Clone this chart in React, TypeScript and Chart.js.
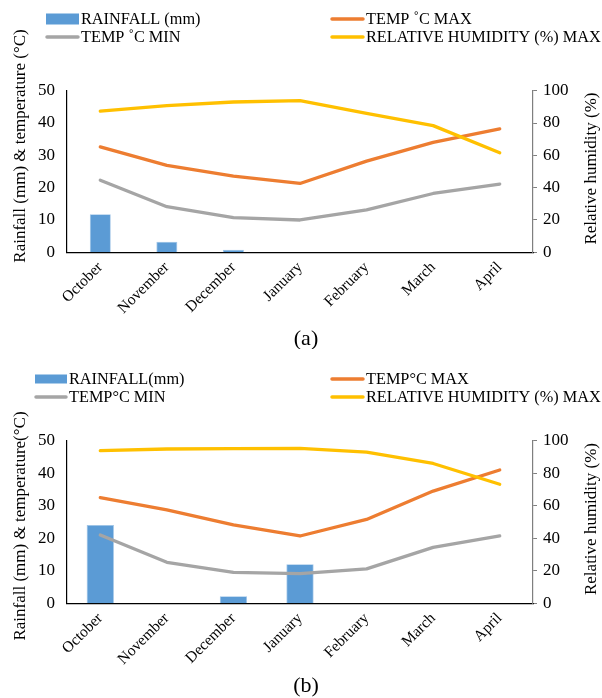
import React, { useEffect, useRef } from "react";
import { Chart, registerables } from "chart.js";

Chart.register(...registerables);

const MONTHS = ["October", "November", "December", "January", "February", "March", "April"];

const RAIN_A = [11.8, 3.3, 0.8, 0, 0, 0, 0];
const TMAX_A = [32.6, 26.9, 23.6, 21.3, 28.2, 34.0, 38.2];
const TMIN_A = [22.3, 14.1, 10.7, 10.0, 13.1, 18.2, 21.1];
const RH_A = [87.4, 90.8, 93.0, 93.8, 86.0, 78.4, 61.6];

const RAIN_B = [24.1, 0, 2.2, 12.0, 0, 0, 0];
const TMAX_B = [32.5, 28.7, 24.1, 20.7, 25.8, 34.5, 41.0];
const TMIN_B = [21.0, 12.6, 9.5, 9.1, 10.6, 17.2, 20.7];
const RH_B = [93.9, 94.9, 95.1, 95.3, 93.0, 86.0, 73.2];

const LABELS_A = ["RAINFALL (mm)", "TEMP ˚C MAX", "TEMP ˚C MIN", "RELATIVE HUMIDITY (%) MAX"];
const LABELS_B = ["RAINFALL(mm)", "TEMP°C MAX", "TEMP°C MIN", "RELATIVE HUMIDITY (%) MAX"];
const YLEFT_A = "Rainfall (mm) & temperature (°C)";
const YLEFT_B = "Rainfall (mm) & temperature(°C)";
const YRIGHT = "Relative humidity (%)";

const BLUE = "#5B9BD5";
const ORANGE = "#ED7D31";
const GRAY = "#A5A5A5";
const YELLOW = "#FFC000";
const FONT = '"Liberation Serif", "Times New Roman", serif';

const W = 602;
const H = 349;

type Cfg = {
  rain: number[];
  tmax: number[];
  tmin: number[];
  rh: number[];
  names: string[];
  yLeft: string;
  caption: string;
  top: number;
  bottom: number;
  barPct: number;
  leg: { x0: number; x1: number; tx: number; r1: number; r2: number; boxH: number };
  leftTitleY: number;
  captionY: number;
};

const annot = {
  id: "annot",
  afterDraw(chart: any, _args: any, opts: any) {
    const cfg: Cfg = opts.cfg;
    if (!cfg) return;
    const ctx = chart.ctx;
    ctx.save();
    ctx.fillStyle = "#000";
    // legend
    const L = cfg.leg;
    ctx.font = `16.3px ${FONT}`;
    ctx.textBaseline = "middle";
    ctx.textAlign = "left";
    ctx.fillStyle = BLUE;
    ctx.fillRect(L.x0, L.r1 - L.boxH / 2, L.x1 - L.x0, L.boxH);
    ctx.lineWidth = 3.5;
    ctx.lineCap = "round";
    const line = (c: string, a: number, b: number, y: number) => {
      ctx.strokeStyle = c;
      ctx.beginPath();
      ctx.moveTo(a, y);
      ctx.lineTo(b, y);
      ctx.stroke();
    };
    line(GRAY, L.x0 + 1, L.x1 - 1, L.r2);
    line(ORANGE, 332, 363, L.r1);
    line(YELLOW, 332, 363, L.r2);
    ctx.fillStyle = "#000";
    ctx.fillText(cfg.names[0], L.tx, L.r1 + 1);
    ctx.fillText(cfg.names[2], L.tx, L.r2 + 1);
    ctx.fillText(cfg.names[1], 366, L.r1 + 1);
    ctx.fillText(cfg.names[3], 366, L.r2 + 1);
    // axis titles
    ctx.font = `17px ${FONT}`;
    ctx.textAlign = "center";
    ctx.textBaseline = "alphabetic";
    ctx.save();
    ctx.translate(25, cfg.leftTitleY);
    ctx.rotate(-Math.PI / 2);
    ctx.fillText(cfg.yLeft, 0, 0);
    ctx.restore();
    const ca = chart.chartArea;
    ctx.save();
    ctx.translate(596, (ca.top + ca.bottom) / 2 - 3);
    ctx.rotate(-Math.PI / 2);
    ctx.fillText(YRIGHT, 0, 0);
    ctx.restore();
    // caption
    ctx.font = `22px ${FONT}`;
    ctx.textBaseline = "middle";
    ctx.fillText(cfg.caption, 306, cfg.captionY);
    ctx.restore();
  },
};

function Panel({ cfg }: { cfg: Cfg }) {
  const ref = useRef<HTMLCanvasElement | null>(null);
  useEffect(() => {
    if (!ref.current) return;
    const tickFont = { family: FONT, size: 17 };
    const lineDs = (label: string, data: number[], color: string, axis: string, order: number) => ({
      type: "line",
      label,
      data,
      yAxisID: axis,
      borderColor: color,
      backgroundColor: color,
      borderWidth: 3.3,
      pointRadius: 0,
      tension: 0,
      borderCapStyle: "round",
      borderJoinStyle: "round",
      order,
    });
    const chart = new Chart(ref.current, {
      type: "bar",
      data: {
        labels: MONTHS,
        datasets: [
          {
            type: "bar",
            label: cfg.names[0],
            data: cfg.rain,
            yAxisID: "y",
            backgroundColor: BLUE,
            borderColor: "#9DC3E6",
            borderWidth: 0.8,
            barPercentage: cfg.barPct,
            categoryPercentage: 1,
            order: 10,
          },
          lineDs(cfg.names[1], cfg.tmax, ORANGE, "y", 2),
          lineDs(cfg.names[2], cfg.tmin, GRAY, "y", 3),
          lineDs(cfg.names[3], cfg.rh, YELLOW, "y1", 1),
        ],
      } as any,
      options: {
        responsive: false,
        animation: false,
        layout: { padding: { top: cfg.top, bottom: 0, left: 0, right: 0 } },
        plugins: {
          legend: { display: false },
          tooltip: { enabled: false },
          annot: { cfg },
        } as any,
        scales: {
          x: {
            type: "category",
            grid: { display: false, drawTicks: false },
            border: { display: true, color: "#000", width: 1.2 },
            ticks: {
              font: { family: FONT, size: 15.5 },
              color: "#000",
              minRotation: 45,
              maxRotation: 45,
              autoSkip: false,
              padding: 6,
            },
            afterFit: (s: any) => {
              s.height = H - cfg.bottom;
            },
          },
          y: {
            position: "left",
            min: 0,
            max: 50,
            ticks: { stepSize: 10, font: tickFont, color: "#000", padding: 12 },
            grid: { display: false, drawTicks: false },
            border: { display: true, color: "#000", width: 1.2 },
            afterFit: (s: any) => {
              s.width = 67;
            },
          },
          y1: {
            position: "right",
            min: 0,
            max: 100,
            ticks: { stepSize: 20, font: tickFont, color: "#000", padding: 6 },
            grid: { display: true, drawOnChartArea: false, drawTicks: true, tickLength: 4, color: "#7F7F7F" },
            border: { display: true, color: "#7F7F7F", width: 1.2 },
            afterFit: (s: any) => {
              s.width = W - 533;
            },
          },
        },
      } as any,
      plugins: [annot],
    });
    return () => chart.destroy();
  }, [cfg]);
  return <canvas ref={ref} width={W} height={H} style={{ display: "block", width: W, height: H }} />;
}

const CFG_A: Cfg = {
  rain: RAIN_A,
  tmax: TMAX_A,
  tmin: TMIN_A,
  rh: RH_A,
  names: LABELS_A,
  yLeft: YLEFT_A,
  caption: "(a)",
  top: 90.7,
  bottom: 252.3,
  barPct: 0.315,
  leg: { x0: 46, x1: 79, tx: 81, r1: 19, r2: 37, boxH: 11 },
  leftTitleY: 146,
  captionY: 339,
};

const CFG_B: Cfg = {
  rain: RAIN_B,
  tmax: TMAX_B,
  tmin: TMIN_B,
  rh: RH_B,
  names: LABELS_B,
  yLeft: YLEFT_B,
  caption: "(b)",
  top: 91.7,
  bottom: 254.3,
  barPct: 0.41,
  leg: { x0: 35, x1: 67, tx: 69, r1: 30, r2: 48, boxH: 9 },
  leftTitleY: 177,
  captionY: 337,
};

export default function App() {
  return (
    <div style={{ position: "absolute", left: 0, top: 0, width: W, height: 2 * H, background: "#fff" }}>
      <Panel cfg={CFG_A} />
      <Panel cfg={CFG_B} />
    </div>
  );
}
